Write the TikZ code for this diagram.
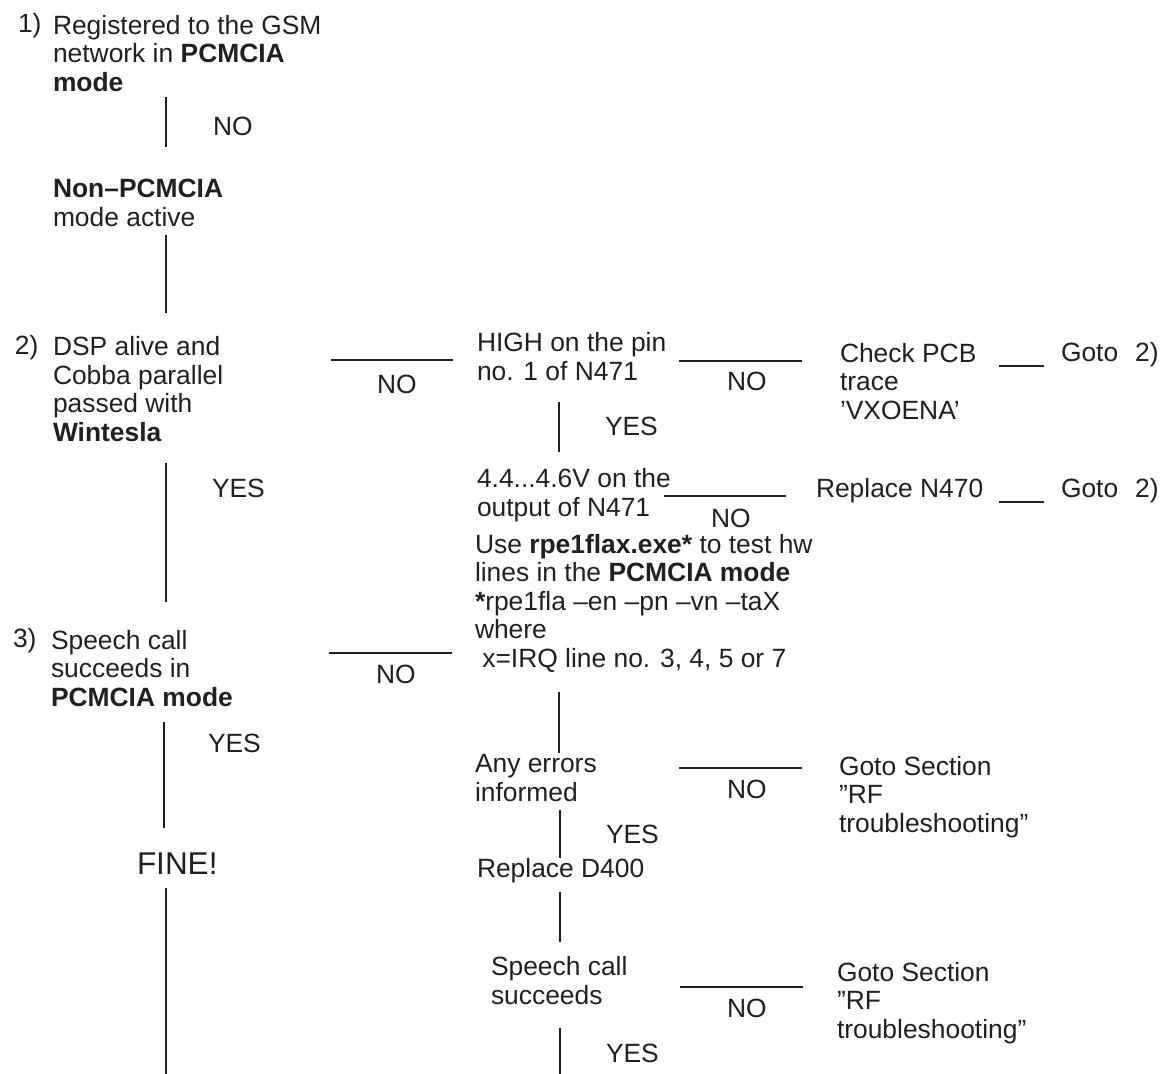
\documentclass[tikz,border=0pt]{standalone}
\usepackage{fontspec}
\setmainfont{Liberation Sans}
\definecolor{ink}{HTML}{231F20}
% multi-line nodes: anchor=base west sits on the baseline of the LAST line
\tikzset{
  txt/.style={anchor=base west, inner sep=0pt, outer sep=0pt, align=left,
              font=\fontsize{26.4}{28.5}\selectfont, text=ink},
  bigtxt/.style={txt, font=\fontsize{31.5}{34}\selectfont},
  conn/.style={draw=ink, line width=2.4pt},
}
\begin{document}
\begin{tikzpicture}[x=1pt, y=-1pt]
\useasboundingbox (0,0) rectangle (1160,1074);

% ---------- left column ----------
\node[txt] (n1) at (18,32) {1)};
\node[txt] (q1) at (53,91) {Registered to the GSM\\network in \textbf{PCMCIA}\\\textbf{mode}};
\node[txt] (no1) at (213,135) {NO};
\node[txt] (nonp) at (53,226) {\textbf{Non–PCMCIA}\\mode active};
\node[txt] (n2) at (15,354) {2)};
\node[txt] (q2) at (53,441) {DSP alive and\\Cobba parallel\\passed with\\\textbf{Wintesla}};
\node[txt] (no2) at (377,393) {NO};
\node[txt] (yes2) at (212,497) {YES};
\node[txt] (n3) at (13,647) {3)};
\node[txt] (q3) at (51,706) {Speech call\\succeeds in\\\textbf{PCMCIA mode}};
\node[txt] (no3) at (376,683) {NO};
\node[txt] (yes3) at (208,752) {YES};
\node[bigtxt] (fine) at (137,874) {FINE!};

% ---------- middle column ----------
\node[txt] (high) at (477,380) {HIGH on the pin\\no. 1 of N471};
\node[txt] (nohigh) at (727,390) {NO};
\node[txt] (yeshigh) at (605,435) {YES};
\node[txt] (volt) at (477,516) {4.4...4.6V on the\\output of N471};
\node[txt] (novolt) at (711,527) {NO};
\node[txt] (use) at (475,667) {Use \textbf{rpe1flax.exe*} to test hw\\lines in the \textbf{PCMCIA mode}\\\textbf{*}rpe1fla –en –pn –vn –taX\\where\\\ x=IRQ line no. 3, 4, 5 or 7};
\node[txt] (err) at (475,801) {Any errors\\informed};
\node[txt] (noerr) at (727,798) {NO};
\node[txt] (yeserr) at (606,843) {YES};
\node[txt] (repd) at (477,877) {Replace D400};
\node[txt] (sc) at (491,1004) {Speech call\\succeeds};
\node[txt] (nosc) at (727,1017) {NO};
\node[txt] (yessc) at (606,1062) {YES};

% ---------- right column ----------
\node[txt] (pcb) at (840,419) {Check PCB\\trace\\’VXOENA’};
\node[txt] (goto1) at (1061,361) {Goto\hspace{17pt}2)};
\node[txt] (repn) at (816,497) {Replace N470};
\node[txt] (goto2) at (1061,497) {Goto\hspace{17pt}2)};
\node[txt] (rf1) at (839,832) {Goto Section\\”RF\\troubleshooting”};
\node[txt] (rf2) at (837,1038) {Goto Section\\”RF\\troubleshooting”};

% ---------- connector end points ----------
\coordinate (a1) at (166,97);   \coordinate (a2) at (166,147);
\coordinate (b1) at (166,235);  \coordinate (b2) at (166,313);
\coordinate (c1) at (331,360);  \coordinate (c2) at (453,360);
\coordinate (d1) at (166,463);  \coordinate (d2) at (166,602);
\coordinate (e1) at (329,653);  \coordinate (e2) at (452,653);
\coordinate (f1) at (164,722);  \coordinate (f2) at (164,828);
\coordinate (g1) at (166,888);  \coordinate (g2) at (166,1074);
\coordinate (h1) at (679,361);  \coordinate (h2) at (802,361);
\coordinate (i1) at (559,402);  \coordinate (i2) at (559,452);
\coordinate (j1) at (664,496);  \coordinate (j2) at (786,496);
\coordinate (k1) at (999,366);  \coordinate (k2) at (1044,366);
\coordinate (l1) at (999,502);  \coordinate (l2) at (1044,502);
\coordinate (m1) at (559,692);  \coordinate (m2) at (559,753);
\coordinate (o1) at (679,768);  \coordinate (o2) at (802,768);
\coordinate (p1) at (560,810);  \coordinate (p2) at (560,858);
\coordinate (r1) at (560,892);  \coordinate (r2) at (560,942);
\coordinate (s1) at (680,987);  \coordinate (s2) at (803,987);
\coordinate (t1) at (560,1028); \coordinate (t2) at (560,1074);

\foreach \u/\v in {a1/a2,b1/b2,c1/c2,d1/d2,e1/e2,f1/f2,g1/g2,h1/h2,i1/i2,
                   j1/j2,k1/k2,l1/l2,m1/m2,o1/o2,p1/p2,r1/r2,s1/s2,t1/t2}
  \draw[conn] (\u) -- (\v);
\end{tikzpicture}
\end{document}
